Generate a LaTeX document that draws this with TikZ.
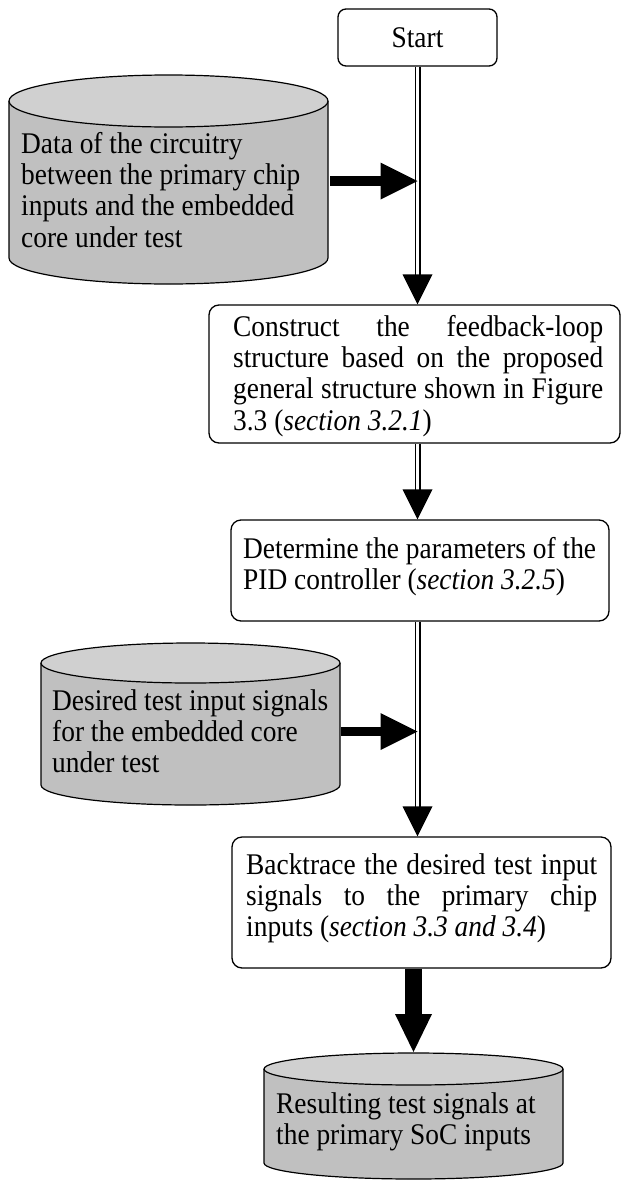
\documentclass[tikz,border=0pt]{standalone}
\usepackage{fontspec}
\setmainfont{Liberation Serif}[FakeStretch=0.913]
\usetikzlibrary{calc}
\definecolor{drumside}{HTML}{C0C0C0}
\definecolor{drumtop}{HTML}{D0D0D0}
\tikzset{
  stepbox/.style={draw, line width=1.3pt, rounded corners=10pt, fill=white, inner sep=0pt},
  blocktext/.style={anchor=north west, inner sep=0pt, align=justify},
  flowline/.style={draw, double, double distance=3.6pt, line width=1.2pt},
  drumline/.style={line width=1.2pt},
}
\begin{document}
\begin{tikzpicture}[x=1pt, y=-1pt,
  every node/.style={font=\fontsize{30}{31.3}\selectfont,
    execute at begin node={\tolerance=10000\hyphenpenalty=10000\exhyphenpenalty=10000}}]
\useasboundingbox (0,0) rectangle (621,1181);

% ---- data stores (cylinders) ----
% store 1
\fill[drumside] (9,101) -- (9,258) arc[start angle=180, end angle=360, x radius=159.5pt, y radius=26pt] -- (328,101) -- cycle;
\draw[drumline] (9,101) -- (9,258) arc[start angle=180, end angle=360, x radius=159.5pt, y radius=26pt] -- (328,101);
\filldraw[drumline, fill=drumtop] (168.5,101) ellipse [x radius=159.5pt, y radius=26pt];
\node[blocktext, align=left] (store1) at (21,131.1)
  {\strut Data of the circuitry\\ between the primary chip\\ inputs and the embedded\\ core under test};

% store 2
\fill[drumside] (41,663) -- (41,785) arc[start angle=180, end angle=360, x radius=149.5pt, y radius=20pt] -- (340,663) -- cycle;
\draw[drumline] (41,663) -- (41,785) arc[start angle=180, end angle=360, x radius=149.5pt, y radius=20pt] -- (340,663);
\filldraw[drumline, fill=drumtop] (190.5,663) ellipse [x radius=149.5pt, y radius=20pt];
\node[blocktext, align=left] (store2) at (52,688.1)
  {\strut Desired test input signals\\ for the embedded core\\ under test};

% store 3
\fill[drumside] (264,1069) -- (264,1163) arc[start angle=180, end angle=360, x radius=149.5pt, y radius=16pt] -- (563,1069) -- cycle;
\draw[drumline] (264,1069) -- (264,1163) arc[start angle=180, end angle=360, x radius=149.5pt, y radius=16pt] -- (563,1069);
\filldraw[drumline, fill=drumtop] (413.5,1069) ellipse [x radius=149.5pt, y radius=16pt];
\node[blocktext, align=left] (store3) at (276,1091.1)
  {\strut Resulting test signals at\\ the primary SoC inputs};

% ---- process boxes ----
\node[stepbox, rounded corners=8pt, minimum width=159pt, minimum height=57pt] (start) at (417.5,37.5) {Start};
\node[stepbox, minimum width=411pt, minimum height=138pt] (construct) at (414.5,374) {};
\node[stepbox, minimum width=378pt, minimum height=101pt] (params) at (420,570.5) {};
\node[stepbox, minimum width=379pt, minimum height=131pt] (backtrace) at (421.5,902.5) {};

\node[blocktext, text width=370pt] (constructtext) at (233,314.1)
  {\strut Construct the feedback-loop\linebreak structure based on the proposed\linebreak general structure shown in Figure\linebreak 3.3 (\textit{section 3.2.1})};
\node[blocktext, align=left] (paramstext) at (243,536.1)
  {\strut Determine the parameters of the\\ PID controller (\textit{section 3.2.5})};
\node[blocktext, text width=351pt] (backtracetext) at (246,852.1)
  {\strut Backtrace the desired test input\linebreak signals to the primary chip\linebreak inputs (\textit{section 3.3 and 3.4})};

% ---- main flow (double lines with solid heads) ----
\coordinate (in1) at (construct.north -| start.south);
\draw[flowline] (start.south) -- ($(in1)+(0,-29)$);
\fill ($(in1)+(-15,-30)$) -- ($(in1)+(15,-30)$) -- (in1) -- cycle;

\coordinate (in2) at (params.north -| start.south);
\draw[flowline] (construct.south -| start.south) -- ($(in2)+(0,-29)$);
\fill ($(in2)+(-15,-30)$) -- ($(in2)+(15,-30)$) -- (in2) -- cycle;

\coordinate (in3) at (backtrace.north -| start.south);
\draw[flowline] (params.south -| start.south) -- ($(in3)+(0,-29)$);
\fill ($(in3)+(-15,-30)$) -- ($(in3)+(15,-30)$) -- (in3) -- cycle;

% ---- data inputs joining the flow ----
\coordinate (store1out) at (330,181);
\coordinate (join1) at (store1out -| start.south);
\draw[line width=10pt] (store1out) -- ($(join1)+(-36,0)$);
\fill ($(join1)+(-37,-18.5)$) -- ($(join1)+(-37,18.5)$) -- (join1) -- cycle;

\coordinate (store2out) at (341,731.5);
\coordinate (join2) at (store2out -| start.south);
\draw[line width=9.5pt] (store2out) -- ($(join2)+(-36,0)$);
\fill ($(join2)+(-37,-18.5)$) -- ($(join2)+(-37,18.5)$) -- (join2) -- cycle;

% ---- result output ----
\coordinate (store3top) at (413.5,1052);
\draw[line width=17pt] (backtrace.south -| store3top) -- ($(store3top)+(0,-37)$);
\fill ($(store3top)+(-18.5,-38)$) -- ($(store3top)+(18.5,-38)$) -- (store3top) -- cycle;
\end{tikzpicture}
\end{document}
